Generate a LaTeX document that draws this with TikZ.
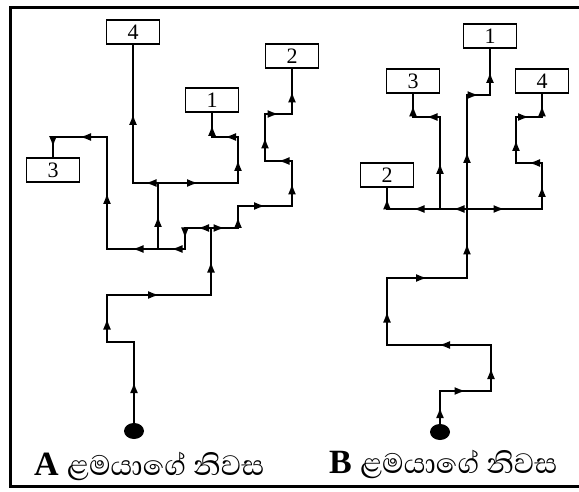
\documentclass[tikz,border=0pt]{standalone}
\usepackage{fontspec}
\setmainfont{Liberation Serif}
\newfontfamily\sinhalafont[Script=Sinhala]{Abhaya Libre}
\usetikzlibrary{arrows.meta,decorations.markings,shapes.geometric}

\begin{document}
\begin{tikzpicture}[x=1pt, y=-1pt, line width=1.6pt, line cap=rect,
    house/.style={draw, line width=1.6pt, minimum width=53pt, minimum height=24pt, inner sep=0pt, font=\fontsize{22}{24}\selectfont},
    home/.style={fill, ellipse, minimum width=20pt, minimum height=16pt, inner sep=0pt},
    flow/.style={postaction={decorate, decoration={markings, mark=at position 0.5 with {\arrow{Latex[length=11pt,width=8pt]}}}}}]
    \useasboundingbox (0,0) rectangle (579,492);
    \draw[line width=3pt, line cap=butt] (590,8) -- (10,8) -- (10,486) -- (590,486); % frame

    % left map, child A
    \node[home] (HA) at (134,431) {};
    \node[house] (DA1) at (212,100) {1};
    \node[house] (DA2) at (292,56) {2};
    \node[house] (DA3) at (53,170) {3};
    \node[house] (DA4) at (133,32) {4};
    \coordinate (A1) at (134,342);
    \coordinate (A2) at (107,342);
    \coordinate (A3) at (107,295);
    \coordinate (A4) at (211,295);
    \coordinate (A5) at (211,228);
    \coordinate (A6) at (185,228);
    \coordinate (A7) at (185,249);
    \coordinate (A8) at (158,249);
    \coordinate (A9) at (107,249);
    \coordinate (A10) at (107,137);
    \coordinate (A11) at (53,137);
    \coordinate (A12) at (158,183);
    \coordinate (A13) at (133,183);
    \coordinate (A14) at (238,183);
    \coordinate (A15) at (238,137);
    \coordinate (A16) at (212,137);
    \coordinate (A17) at (238,228);
    \coordinate (A18) at (238,206);
    \coordinate (A19) at (292,206);
    \coordinate (A20) at (292,161);
    \coordinate (A21) at (265,161);
    \coordinate (A22) at (265,114);
    \coordinate (A23) at (292,114);

    \draw (HA) edge[flow] (A1) (A1) edge (A2) (A2) edge[flow] (A3) (A3) edge[flow] (A4) (A4) edge[flow] (A5); % trunk
    \draw (A5) edge[flow] (A6) (A6) edge[flow] (A7) (A7) edge[flow] (A8) (A8) edge[flow] (A9); % back loop
    \draw (A9) edge[flow] (A10) (A10) edge[flow] (A11) (A11) edge[flow] (DA3); % to 3
    \draw (A8) edge[flow] (A12) (A12) edge[flow] (A13) (A13) edge[flow] (DA4); % to 4
    \draw (A12) edge[flow] (A14) (A14) edge[flow] (A15) (A15) edge[flow] (A16) (A16) edge[flow] (DA1); % to 1
    \draw (A5) edge[flow] (A17) (A17) edge[flow] (A18) (A18) edge[flow] (A19) (A19) edge[flow] (A20); % right steps
    \draw (A20) edge[flow] (A21) (A21) edge[flow] (A22) (A22) edge[flow] (A23) (A23) edge[flow] (DA2); % to 2

    % right map, child B
    \node[home] (HB) at (440,432) {};
    \node[house] (DB1) at (490,36) {1};
    \node[house] (DB2) at (387,175) {2};
    \node[house] (DB3) at (413,81) {3};
    \node[house] (DB4) at (542,81) {4};
    \coordinate (B1) at (440,391);
    \coordinate (B2) at (491,391);
    \coordinate (B3) at (491,345);
    \coordinate (B4) at (387,345);
    \coordinate (B5) at (387,278);
    \coordinate (B6) at (467,278);
    \coordinate (B7) at (467,209);
    \coordinate (B8) at (467,95);
    \coordinate (B9) at (490,95);
    \coordinate (B10) at (440,209);
    \coordinate (B11) at (387,209);
    \coordinate (B12) at (440,117);
    \coordinate (B13) at (413,117);
    \coordinate (B14) at (542,209);
    \coordinate (B15) at (542,163);
    \coordinate (B16) at (516,163);
    \coordinate (B17) at (516,117);
    \coordinate (B18) at (542,117);

    \draw (HB) edge[flow] (B1) (B1) edge[flow] (B2) (B2) edge[flow] (B3) (B3) edge[flow] (B4); % zigzag
    \draw (B4) edge[flow] (B5) (B5) edge[flow] (B6) (B6) edge[flow] (B7); % up to crossing
    \draw (B7) edge[flow] (B8) (B8) edge[flow] (B9) (B9) edge[flow] (DB1); % to 1
    \draw (B7) edge[flow] (B10) (B10) edge[flow] (B11) (B11) edge[flow] (DB2); % to 2
    \draw (B10) edge[flow] (B12) (B12) edge[flow] (B13) (B13) edge[flow] (DB3); % to 3
    \draw (B7) edge[flow] (B14) (B14) edge[flow] (B15) (B15) edge[flow] (B16); % right
    \draw (B16) edge[flow] (B17) (B17) edge[flow] (B18) (B18) edge[flow] (DB4); % to 4

    \node[anchor=base west, font=\fontsize{34}{38}\selectfont] (labA) at (30,475) {\textbf{A} {\sinhalafont\fontsize{36}{40}\selectfont ළමයාගේ නිවස}};
    \node[anchor=base west, font=\fontsize{34}{38}\selectfont] (labB) at (325,473) {\textbf{B} {\sinhalafont\fontsize{36}{40}\selectfont ළමයාගේ නිවස}};
\end{tikzpicture}
\end{document}
